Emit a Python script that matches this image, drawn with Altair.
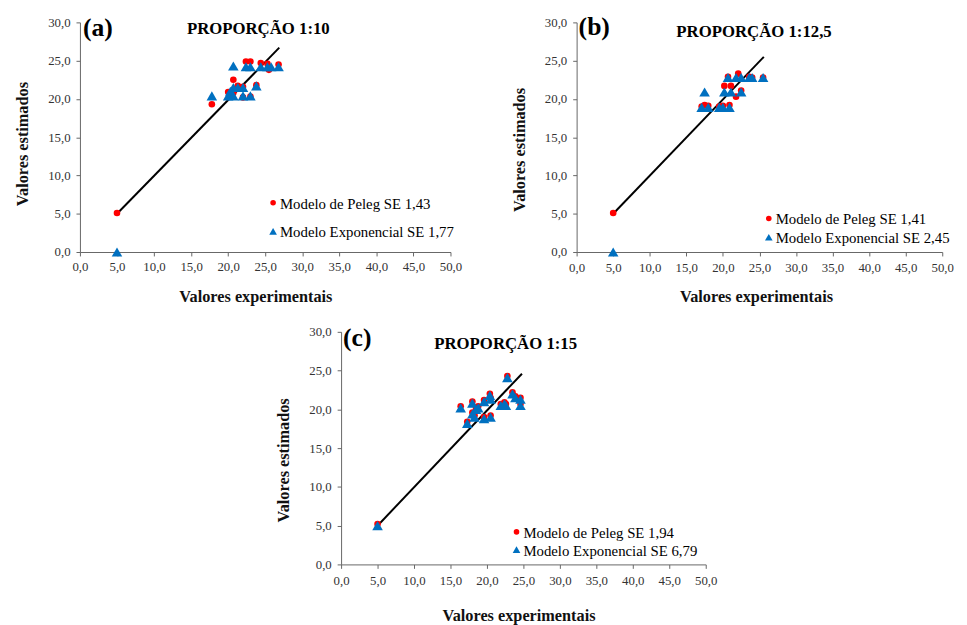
import altair as alt
import pandas as pd

FONT = "Liberation Serif, Times New Roman, serif"

# ---------------- data ----------------
# Panel (a) PROPORÇÃO 1:10
a_peleg_x = [5.0, 17.8, 20.0, 20.3, 20.7, 20.7, 21.3, 22.0, 22.0, 22.4, 23.0, 23.0, 23.8, 24.4, 25.3, 25.5, 26.8]
a_peleg_y = [5.1, 19.3, 20.9, 20.6, 22.5, 20.8, 21.7, 21.6, 20.2, 24.9, 24.9, 20.3, 21.8, 24.7, 24.6, 23.8, 24.5]
a_expo_x = [5.0, 17.8, 20.0, 20.3, 20.7, 20.7, 20.7, 21.3, 22.0, 22.0, 22.4, 23.0, 23.0, 23.8, 24.4, 25.3, 25.8, 26.8]
a_expo_y = [0.0, 20.4, 20.4, 21.0, 24.3, 20.4, 21.5, 21.5, 21.5, 20.4, 24.2, 24.2, 20.4, 21.7, 24.2, 24.2, 24.2, 24.2]
a_line_x = [5.0, 26.9]
a_line_y = [5.0, 26.7]

# Panel (b) PROPORÇÃO 1:12,5
b_peleg_x = [5.0, 17.1, 17.5, 18.0, 19.5, 20.0, 20.9, 20.2, 21.1, 21.8, 22.5, 22.1, 20.7, 23.6, 24.0, 25.5]
b_peleg_y = [5.1, 19.0, 19.2, 19.1, 19.0, 19.1, 19.2, 21.7, 21.7, 20.3, 21.1, 23.3, 22.9, 22.9, 22.8, 22.8]
b_expo_x = [5.0, 17.5, 17.1, 18.0, 19.5, 20.0, 20.9, 20.2, 21.1, 22.5, 20.7, 21.8, 22.5, 23.6, 24.0, 25.5]
b_expo_y = [0.0, 20.9, 18.9, 18.9, 18.9, 18.9, 18.9, 20.9, 20.9, 20.9, 22.8, 22.8, 22.8, 22.8, 22.8, 22.8]
b_line_x = [5.0, 25.6]
b_line_y = [5.0, 25.5]

# Panel (c) PROPORÇÃO 1:15
c_peleg_x = [5.0, 16.4, 17.3, 18.0, 18.0, 18.5, 18.8, 18.3, 19.6, 19.6, 20.4, 20.5, 20.5, 21.9, 22.4, 22.6, 22.8, 23.5, 23.9, 24.6, 24.6]
c_peleg_y = [5.2, 20.4, 18.4, 21.0, 19.6, 20.2, 20.4, 19.2, 19.0, 21.2, 22.0, 21.5, 19.2, 20.7, 20.9, 20.7, 24.3, 22.2, 21.7, 21.5, 20.7]
c_expo_x = [5.0, 16.4, 17.3, 18.0, 18.0, 18.5, 18.8, 18.3, 19.6, 19.6, 20.4, 20.5, 20.5, 21.9, 22.4, 22.6, 22.8, 23.5, 23.9, 24.6, 24.6]
c_expo_y = [5.0, 20.2, 18.2, 20.8, 19.4, 20.0, 20.2, 19.0, 18.8, 21.0, 21.8, 21.3, 19.0, 20.5, 20.7, 20.5, 24.1, 22.0, 21.5, 21.3, 20.5]
c_line_x = [4.8, 24.8]
c_line_y = [4.8, 24.6]

x_ticks = [0, 5, 10, 15, 20, 25, 30, 35, 40, 45, 50]
y_ticks = [0, 5, 10, 15, 20, 25, 30]

RED = "#FF0000"
BLUE = "#0070C0"
LABEL_EXPR = "replace(format(datum.value, '.1f'), '.', ',')"


def panel(tag, title, px, py, ex, ey, lx, ly, leg1, leg2, geo):
    W, H = geo["W"], geo["H"]
    pel = pd.DataFrame({"x": px, "y": py})
    exp = pd.DataFrame({"x": ex, "y": ey})
    ln = pd.DataFrame({"x": lx, "y": ly})

    xs = alt.Scale(domain=[0, 50], nice=False, zero=False)
    ys = alt.Scale(domain=[0, 30], nice=False, zero=False)
    xa = alt.Axis(values=x_ticks, labelExpr=LABEL_EXPR, grid=False, tickSize=4,
                  labelPadding=geo["xlp"], labelFont=FONT, labelFontSize=13,
                  labelOverlap=False, labelFlush=False, labelColor="#333333",
                  domainColor="#666666", tickColor="#666666",
                  title="Valores experimentais", titleFont=FONT, titleFontSize=16.5,
                  titleFontWeight="bold", titleColor="#111111",
                  titleX=geo["xtx"], titleY=geo["xty"], titleBaseline="alphabetic",
                  titleAnchor="middle", titleAlign="center")
    ya = alt.Axis(values=y_ticks, labelExpr=LABEL_EXPR, grid=False, tickSize=4,
                  labelPadding=6, labelFont=FONT, labelFontSize=13,
                  labelOverlap=False, labelFlush=False, labelColor="#333333",
                  domainColor="#666666", tickColor="#666666",
                  title="Valores estimados", titleFont=FONT, titleFontSize=16.5,
                  titleFontWeight="bold", titleColor="#111111",
                  titleX=-53, titleY=geo["yty"], titleBaseline="alphabetic",
                  titleAngle=270, titleAlign="center")

    X = alt.X("x:Q", scale=xs, axis=xa)
    Y = alt.Y("y:Q", scale=ys, axis=ya)
    line = alt.Chart(ln).mark_line(color="black", strokeWidth=2).encode(x=X, y=Y)
    dots = alt.Chart(pel).mark_point(shape="circle", filled=True, color=RED,
                                      opacity=1, size=45).encode(x=X, y=Y)
    tris = alt.Chart(exp).mark_point(shape="triangle-up", filled=True, color=BLUE,
                                      opacity=1, size=115).encode(x=X, y=Y)

    tag_df = pd.DataFrame({"t": [tag]})
    tag_txt = alt.Chart(tag_df).mark_text(font=FONT, fontSize=26, fontWeight="bold",
                                          align="left", baseline="alphabetic",
                                          color="black").encode(
        text="t:N", x=alt.value(geo["tagx"]), y=alt.value(geo["tagy"]))
    ttl_df = pd.DataFrame({"t": [title]})
    ttl_txt = alt.Chart(ttl_df).mark_text(font=FONT, fontSize=17, fontWeight="bold",
                                          align="center", baseline="alphabetic",
                                          color="black").encode(
        text="t:N", x=alt.value(geo["ttx"]), y=alt.value(geo["tty"]))

    lg = pd.DataFrame({"t": [leg1]})
    lg2 = pd.DataFrame({"t": [leg2]})
    lx0, ly1, ly2 = geo["lgx"], geo["lgy1"], geo["lgy2"]
    leg_c = alt.Chart(lg).mark_point(shape="circle", filled=True, color=RED, opacity=1,
                                     size=32).encode(x=alt.value(lx0), y=alt.value(ly1))
    leg_t = alt.Chart(lg2).mark_point(shape="triangle-up", filled=True, color=BLUE,
                                      opacity=1, size=60).encode(x=alt.value(lx0), y=alt.value(ly2))
    leg_ct = alt.Chart(lg).mark_text(font=FONT, fontSize=15, align="left",
                                     baseline="middle", color="black").encode(
        text="t:N", x=alt.value(lx0 + 7), y=alt.value(ly1 + 1))
    leg_tt = alt.Chart(lg2).mark_text(font=FONT, fontSize=15, align="left",
                                      baseline="middle", color="black").encode(
        text="t:N", x=alt.value(lx0 + 7), y=alt.value(ly2 + 1))

    return alt.layer(line, dots, tris, tag_txt, ttl_txt, leg_c, leg_t, leg_ct, leg_tt
                     ).properties(width=W, height=H)


geo_a = dict(W=376, H=233, xlp=5, xtx=178, xty=50, yty=123, tagx=3, tagy=14,
             ttx=181, tty=12, lgx=196, lgy1=183, lgy2=212)
geo_b = dict(W=371, H=233, xlp=6, xtx=182, xty=50, yty=129, tagx=2, tagy=13,
             ttx=180, tty=15, lgx=195, lgy1=199, lgy2=218)
geo_c = dict(W=370, H=236, xlp=6, xtx=180, xty=57, yty=130, tagx=2, tagy=14,
             ttx=167, tty=17, lgx=178, lgy1=203, lgy2=221)

pa = panel("(a)", "PROPORÇÃO 1:10", a_peleg_x, a_peleg_y, a_expo_x, a_expo_y,
           a_line_x, a_line_y, "Modelo de Peleg SE 1,43", "Modelo Exponencial SE 1,77", geo_a)
pb = panel("(b)", "PROPORÇÃO 1:12,5", b_peleg_x, b_peleg_y, b_expo_x, b_expo_y,
           b_line_x, b_line_y, "Modelo de Peleg SE 1,41", "Modelo Exponencial SE 2,45", geo_b)
pc = panel("(c)", "PROPORÇÃO 1:15", c_peleg_x, c_peleg_y, c_expo_x, c_expo_y,
           c_line_x, c_line_y, "Modelo de Peleg SE 1,94", "Modelo Exponencial SE 6,79", geo_c)

spacer = alt.Chart(pd.DataFrame({"v": [0]})).mark_text(text=" ", opacity=0).encode(
    x=alt.value(0), y=alt.value(0)).properties(width=200, height=236)

top = alt.hconcat(pa, pb, spacing=128, bounds="flush")
bottom = alt.hconcat(spacer, pc, spacing=65, bounds="flush")

chart = alt.vconcat(top, bottom, spacing=20).properties(
    padding={"left": 7, "top": 2, "right": 5, "bottom": 5},
    background="white"
).configure_view(stroke="transparent", strokeWidth=0).configure_axis(
    labelFont=FONT, labelFontSize=13, titleFont=FONT
).configure_text(font=FONT)

chart.save("out.html", embed_options={"renderer": "svg", "actions": False})
